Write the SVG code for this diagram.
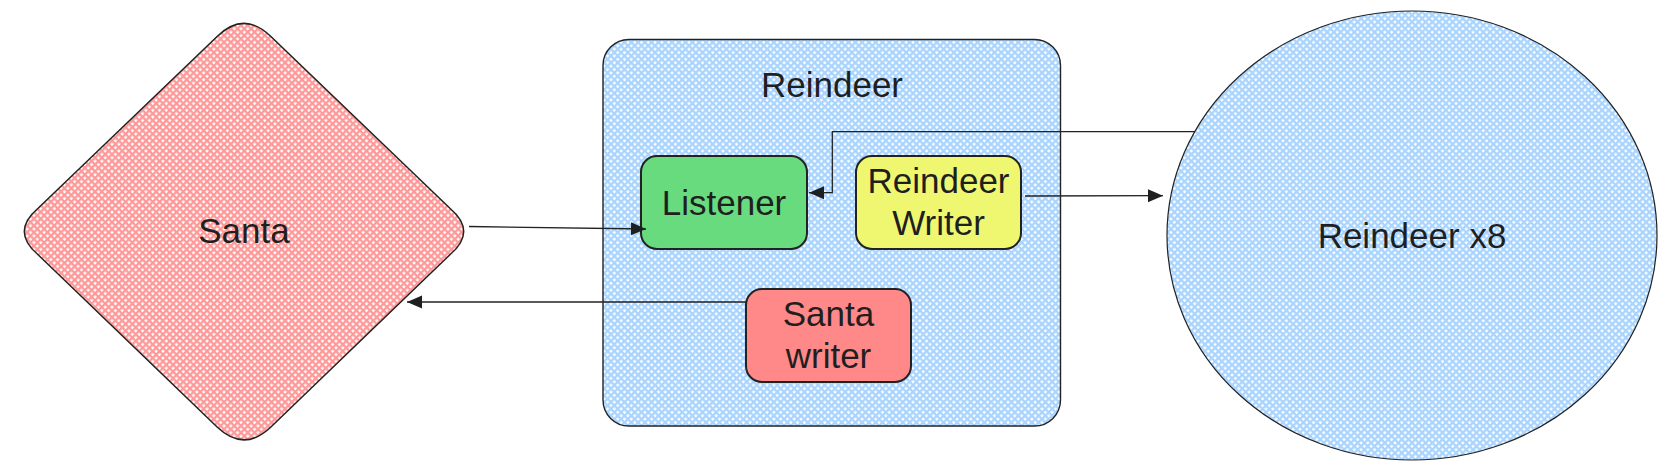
<svg xmlns="http://www.w3.org/2000/svg" width="1667" height="471" viewBox="0 0 1667 471">
  <style>
    .lbl { font-family: "Liberation Sans", Arial, sans-serif; font-size: 35px; fill: #1f1f1f; text-anchor: middle; }
    .box { stroke: #222; stroke-width: 2; }
    .edge { fill: none; stroke: #222; stroke-width: 1.3; }
  </style>
  <defs>
    <pattern id="hatchPink" patternUnits="userSpaceOnUse" width="4.8" height="4.8" patternTransform="rotate(45)">
      <rect width="4.8" height="4.8" fill="#ffffff"/>
      <rect width="4.8" height="2.3" fill="#ff9999"/>
      <rect width="2.3" height="4.8" fill="#ff9999"/>
    </pattern>
    <pattern id="hatchBlue" patternUnits="userSpaceOnUse" width="4.8" height="4.8" patternTransform="rotate(45)">
      <rect width="4.8" height="4.8" fill="#ffffff"/>
      <rect width="4.8" height="2.3" fill="#a8d4ff"/>
      <rect width="2.3" height="4.8" fill="#a8d4ff"/>
    </pattern>
    <marker id="arrow" markerUnits="userSpaceOnUse" markerWidth="16" markerHeight="14" refX="15" refY="6.5" orient="auto">
      <path d="M0,0 L15,6.5 L0,13 Z" fill="#1f1f1f"/>
    </marker>
  </defs>

  <g id="santa">
    <path d="M38.1,208.2 L217.1,36.5 Q244,10.3 270.9,36.5 L449.9,208.2 Q477.5,231.5 449.9,254.8 L270.9,427 Q244,452.7 217.1,427 L38.1,254.8 Q10.5,231.5 38.1,208.2 Z" fill="url(#hatchPink)" stroke="#222" stroke-width="1.5"/>
    <text class="lbl" x="244" y="243">Santa</text>
  </g>

  <g id="reindeer-group">
    <rect x="603" y="39.5" width="457.5" height="386.5" rx="26" ry="26" fill="url(#hatchBlue)" stroke="#222" stroke-width="1.4"/>
    <text class="lbl" x="832" y="97">Reindeer</text>
  </g>

  <g id="listener">
    <rect class="box" x="641" y="156" width="166" height="93" rx="16" ry="16" fill="#67db7e"/>
    <text class="lbl" x="724" y="215">Listener</text>
  </g>

  <g id="reindeer-writer">
    <rect class="box" x="856" y="156" width="165" height="93" rx="16" ry="16" fill="#eef76f"/>
    <text class="lbl" x="938.5" y="193">Reindeer</text>
    <text class="lbl" x="938.5" y="235">Writer</text>
  </g>

  <g id="santa-writer">
    <rect class="box" x="746" y="289" width="165" height="93" rx="16" ry="16" fill="#ff8888"/>
    <text class="lbl" x="828.5" y="326">Santa</text>
    <text class="lbl" x="828.5" y="368">writer</text>
  </g>

  <g id="reindeer-x8">
    <ellipse cx="1412" cy="235.5" rx="245" ry="224.5" fill="url(#hatchBlue)" stroke="#222" stroke-width="1.2"/>
    <text class="lbl" x="1412" y="248">Reindeer x8</text>
  </g>

  <g id="connectors">
    <path class="edge" d="M469,226.5 L646,229" marker-end="url(#arrow)"/>
    <path class="edge" d="M746,302 L407,302" marker-end="url(#arrow)"/>
    <path class="edge" d="M1025,196 L1163,195.7" marker-end="url(#arrow)"/>
    <path class="edge" d="M1195,131.7 H832.3 V192.7 H809" marker-end="url(#arrow)"/>
  </g>
</svg>
